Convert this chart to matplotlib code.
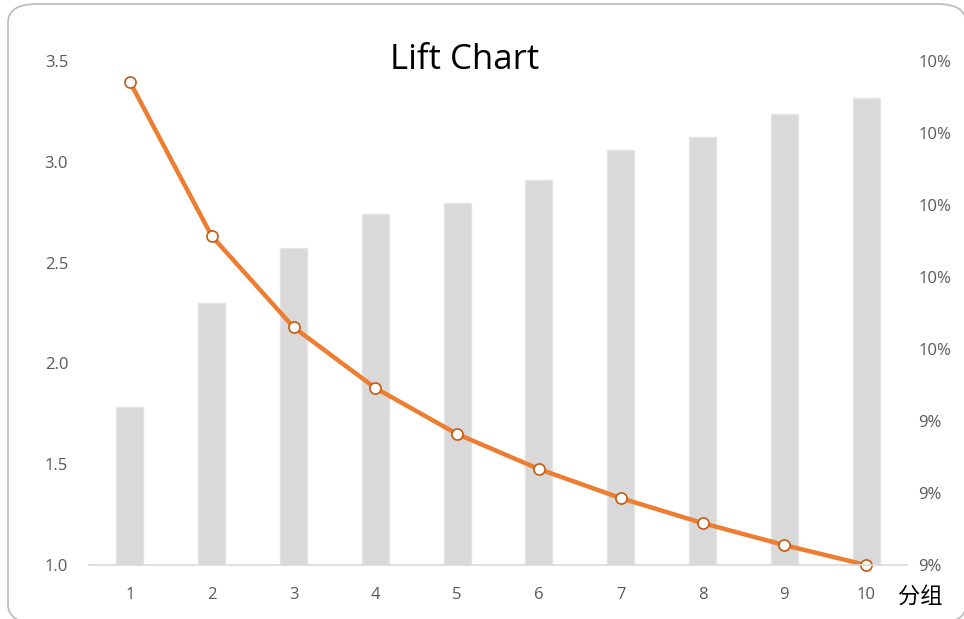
import numpy as np
import matplotlib.pyplot as plt
from matplotlib.patches import FancyBboxPatch
from matplotlib.ticker import FuncFormatter

plt.rcParams['font.family'] = ['Open Sans', 'Noto Sans CJK SC', 'DejaVu Sans']

groups = [1, 2, 3, 4, 5, 6, 7, 8, 9, 10]
lift = [3.396, 2.632, 2.180, 1.878, 1.650, 1.476, 1.332, 1.208, 1.099, 1.000]
rate = [0.09439, 0.09728, 0.09881, 0.09975, 0.10006, 0.10069, 0.10153, 0.10189, 0.10253, 0.10297]

W, H = 964, 619
fig = plt.figure(figsize=(W / 100, H / 100), dpi=100)

# rounded outer frame, runs slightly off the bottom/right edge
frame = FancyBboxPatch((8 / W, -4 / H), 958 / W, 619 / H,
                       boxstyle='round,pad=0,rounding_size=0.03',
                       transform=fig.transFigure, facecolor='white',
                       edgecolor='#BFBFBF', linewidth=1.3, zorder=-10)
fig.patches.append(frame)

ax = fig.add_axes([89 / W, 54 / H, 818 / W, 504 / H])
ax.set_facecolor('none')
ax2 = ax.twinx()
# bars behind the line
ax.set_zorder(2)
ax2.set_zorder(1)

ax2.bar(groups, rate, width=0.33, color='#D9D9D9', edgecolor='#E4E4E4', linewidth=1)
ax2.set_ylim(0.090, 0.104)
ax2.set_yticks(np.arange(0.090, 0.1041, 0.002))
ax2.yaxis.set_major_formatter(FuncFormatter(lambda v, p: '{:.0f}%'.format(v * 100)))

ax.plot(groups, lift, color='#ED7D31', linewidth=3.2, marker='o', markersize=8,
        markerfacecolor='white', markeredgecolor='#C55A11', markeredgewidth=1.2,
        clip_on=False)
ax.set_ylim(1.0, 3.5)
ax.set_yticks([1.0, 1.5, 2.0, 2.5, 3.0, 3.5])
ax.yaxis.set_major_formatter(FuncFormatter(lambda v, p: '{:.1f}'.format(v)))
ax.set_xlim(0.5, 10.5)
ax.set_xticks(groups)

for a in (ax, ax2):
    for s in a.spines.values():
        s.set_visible(False)
    a.tick_params(length=0, labelsize=12, labelcolor='#595959')
ax.spines['bottom'].set_visible(True)
ax.spines['bottom'].set_color('#D9D9D9')
ax.spines['bottom'].set_linewidth(1.2)
ax.tick_params(axis='y', pad=15)
ax.tick_params(axis='x', pad=16)
ax2.tick_params(axis='y', pad=8)

fig.text(465 / W, 1 - 60 / H, 'Lift Chart', fontsize=25, ha='center', va='center', color='black')
fig.text(920 / W, 1 - 597 / H, '分组', fontsize=16, ha='center', va='center', color='black')

fig.savefig('out.png', dpi=100)
